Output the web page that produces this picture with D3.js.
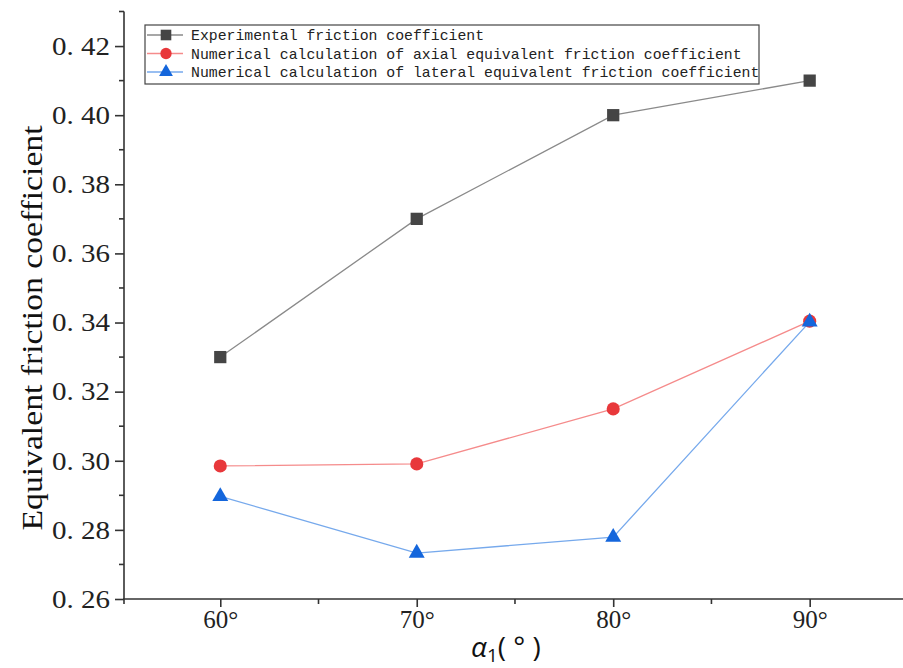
<!DOCTYPE html>
<html>
<head>
<meta charset="utf-8">
<script src="https://cdn.jsdelivr.net/npm/d3@7"></script>
<style>
  body { margin: 0; background: #fff; }
  svg { display: block; }
</style>
</head>
<body>
<script>
"use strict";

// data
const angles = [60, 70, 80, 90]
const experimental = [0.33, 0.37, 0.40, 0.41]
const axial = [0.2985, 0.2991, 0.315, 0.3404]
const lateral = [0.2897, 0.2733, 0.2779, 0.3402]
const yTicks = [0.26, 0.28, 0.30, 0.32, 0.34, 0.36, 0.38, 0.40, 0.42]
const yMinorTicks = [0.27, 0.29, 0.31, 0.33, 0.35, 0.37, 0.39, 0.41, 0.43]
const xMinorTicks = [65, 75, 85]
const seriesNames = [
    "Experimental friction coefficient",
    "Numerical calculation of axial equivalent friction coefficient",
    "Numerical calculation of lateral equivalent friction coefficient"
]

const measurements = {
    width: 903,
    height: 668,
    left: 124,
    right: 903,
    top: 11.5,
    bottom: 599
}

const serif = "'Liberation Serif', 'DejaVu Serif', serif"

const styles = [
    { line: "#8a8a8a", fill: "#454545", symbol: d3.symbolSquare, size: 150 },
    { line: "#f58b8b", fill: "#e8383b", symbol: d3.symbolCircle, size: 135 },
    { line: "#76a9ec", fill: "#1466dc", symbol: d3.symbolTriangle, size: 110 }
]

const svg = d3.select("body").append("svg")
    .attr("width", measurements.width)
    .attr("height", measurements.height)

const scaleX = d3.scaleLinear()
    .domain([55.1, 94.75])
    .range([measurements.left, measurements.right])

const scaleY = d3.scaleLinear()
    .domain([0.26, 0.43])
    .range([measurements.bottom, measurements.top])

drawAxes()
plotData()
makeLabels()
makeLegend()

function drawAxes() {
    // x axis
    const xAxis = d3.axisBottom(scaleX)
        .tickValues(angles)
        .tickSize(8)
        .tickPadding(6)
        .tickFormat(d => d + "°")
    const gx = svg.append("g")
        .attr("transform", "translate(0," + measurements.bottom + ")")
        .call(xAxis)
    gx.select(".domain").attr("stroke", "#333").attr("stroke-width", 1.6)
        .attr("d", "M" + (measurements.left - 1) + ",0H" + measurements.right)
    gx.selectAll(".tick line").attr("stroke", "#333").attr("stroke-width", 1.6)
    gx.selectAll(".tick text")
        .style("font-family", serif)
        .style("font-size", "25px")
        .attr("fill", "#222")
        .attr("dy", "0.6em")

    svg.append("g").selectAll("line")
        .data(xMinorTicks)
        .join("line")
        .attr("x1", d => scaleX(d))
        .attr("x2", d => scaleX(d))
        .attr("y1", measurements.bottom)
        .attr("y2", measurements.bottom + 5)
        .attr("stroke", "#333")
        .attr("stroke-width", 1.6)

    // y axis
    const yAxis = d3.axisLeft(scaleY)
        .tickValues(yTicks)
        .tickSize(9)
        .tickPadding(5)
        .tickFormat(d => "0. " + d3.format(".2f")(d).slice(2))
    const gy = svg.append("g")
        .attr("transform", "translate(" + measurements.left + ",0)")
        .call(yAxis)
    gy.select(".domain").attr("stroke", "#333").attr("stroke-width", 1.6)
        .attr("d", "M0," + measurements.top + "V" + (measurements.bottom + 5))
    gy.selectAll(".tick line").attr("stroke", "#333").attr("stroke-width", 1.6)
    gy.selectAll(".tick text")
        .style("font-family", serif)
        .style("font-size", "26px")
        .attr("fill", "#222")
        .attr("textLength", 58)
        .attr("lengthAdjust", "spacingAndGlyphs")

    svg.append("g").selectAll("line")
        .data(yMinorTicks)
        .join("line")
        .attr("x1", measurements.left - 5)
        .attr("x2", measurements.left)
        .attr("y1", d => scaleY(d))
        .attr("y2", d => scaleY(d))
        .attr("stroke", "#333")
        .attr("stroke-width", 1.6)
}

function plotData() {
    const allSeries = [experimental, axial, lateral]

    allSeries.forEach(function(values, i) {
        const pts = values.map((v, j) => [angles[j], v])
        const line = d3.line()
            .x(d => scaleX(d[0]))
            .y(d => scaleY(d[1]))

        svg.append("path")
            .datum(pts)
            .attr("d", line)
            .attr("fill", "none")
            .attr("stroke", styles[i].line)
            .attr("stroke-width", 1.3)
    })

    allSeries.forEach(function(values, i) {
        const pts = values.map((v, j) => [angles[j], v])
        svg.append("g").selectAll("path")
            .data(pts)
            .join("path")
            .attr("transform", d => "translate(" + scaleX(d[0]) + "," + scaleY(d[1]) + ")")
            .attr("d", d3.symbol().type(styles[i].symbol).size(styles[i].size))
            .attr("fill", styles[i].fill)
    })
}

function makeLabels() {
    svg.append("text")
        .attr("transform", "translate(42," + 328 + ")rotate(-90)")
        .attr("text-anchor", "middle")
        .style("font-family", serif)
        .style("font-size", "30px")
        .attr("fill", "#111")
        .attr("textLength", 405)
        .attr("lengthAdjust", "spacingAndGlyphs")
        .text("Equivalent friction coefficient")

    const title = svg.append("text")
        .attr("x", 471)
        .attr("y", 657)
        .style("font-family", "'Open Sans', 'DejaVu Sans', sans-serif")
        .style("font-size", "28px")
        .attr("fill", "#111")
    title.append("tspan").attr("font-style", "italic").text("α")
    title.append("tspan").style("font-size", "19px").attr("dy", 5).text("1")
    title.append("tspan").attr("dy", -5).text("(\u00a0°\u00a0)")
}

// legend box in the upper left
function makeLegend() {
    const box = { x: 145, y: 25, w: 614, h: 59, row: 18.5 }
    const g = svg.append("g")

    g.append("rect")
        .attr("x", box.x)
        .attr("y", box.y)
        .attr("width", box.w)
        .attr("height", box.h)
        .attr("fill", "#fff")
        .attr("stroke", "#444")
        .attr("stroke-width", 1.2)

    const rows = g.selectAll("g.row")
        .data(seriesNames)
        .join("g")
        .attr("class", "row")
        .attr("transform", (d, i) => "translate(0," + (box.y + 10 + i * box.row) + ")")

    rows.append("line")
        .attr("x1", 147)
        .attr("x2", 183)
        .attr("stroke", (d, i) => styles[i].line)
        .attr("stroke-width", 1.4)

    rows.append("path")
        .attr("transform", "translate(166,0)")
        .attr("d", (d, i) => d3.symbol().type(styles[i].symbol).size(styles[i].size * 0.75)())
        .attr("fill", (d, i) => styles[i].fill)

    rows.append("text")
        .attr("x", 191)
        .attr("dy", "0.35em")
        .style("font-family", "'Liberation Mono', 'DejaVu Sans Mono', monospace")
        .style("font-size", "14.8px")
        .attr("fill", "#222")
        .text(d => d)
}
</script>
</body>
</html>
